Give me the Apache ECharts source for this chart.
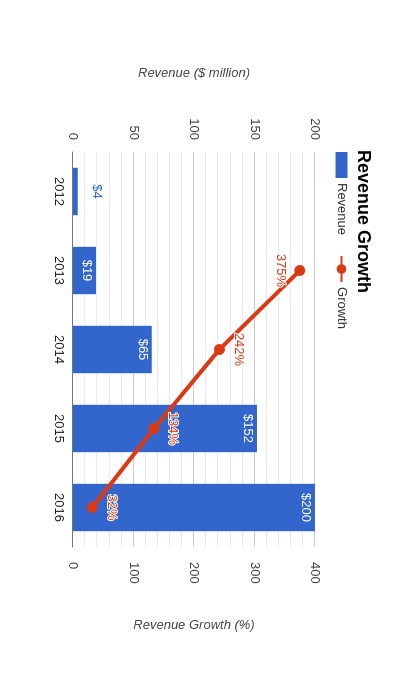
<!DOCTYPE html>
<html>
<head>
<meta charset="utf-8">
<script src="https://cdn.jsdelivr.net/npm/echarts@6/dist/echarts.min.js"></script>
<style>
  html, body { margin: 0; padding: 0; background: #fff; overflow: hidden; }
  /* the chart is drawn landscape and turned 90deg clockwise onto the page */
  #chart {
    position: absolute; left: 0; top: 0;
    width: 700px; height: 414px;
    transform-origin: 0 0;
    transform: translate(414px, 0) rotate(90deg);
  }
</style>
</head>
<body>
<div id="chart"></div>
<script>
var years = ['2012', '2013', '2014', '2015', '2016'];
var revenue = [4, 19, 65, 152, 200];          // $ million
var growth = [null, 375, 242, 134, 32];       // %
var revenueTicks = [0, 200, 50];              // min, max, step
var growthTicks = [0, 400, 100];

var chart = echarts.init(document.getElementById('chart'));

var blue = '#3366cc';
var red = '#dc3912';

var option = {
  backgroundColor: '#fff',
  textStyle: { fontFamily: 'Liberation Sans, Arial, sans-serif' },
  title: {
    text: 'Revenue Growth',
    left: 150,
    top: 42,
    padding: 0,
    textStyle: { fontSize: 18, fontWeight: 'bold', color: '#000' }
  },
  legend: {
    left: 152,
    top: 66,
    padding: 0,
    itemWidth: 26,
    itemHeight: 12,
    itemGap: 20,
    data: [{ name: 'Revenue', icon: 'rect' }, { name: 'Growth' }],
    textStyle: { fontSize: 13, color: '#333' }
  },
  grid: { left: 152, right: 153, top: 99, bottom: 73, containLabel: false },
  xAxis: {
    type: 'category',
    data: years,
    axisTick: { show: false },
    axisLine: { lineStyle: { color: '#777' } },
    axisLabel: { color: '#222', fontSize: 13, margin: 8 }
  },
  yAxis: [
    {
      type: 'value',
      min: revenueTicks[0], max: revenueTicks[1], interval: revenueTicks[2],
      name: 'Revenue ($ million)',
      nameLocation: 'middle',
      nameRotate: 90,
      nameGap: 72,
      nameTextStyle: { fontStyle: 'italic', color: '#444', fontSize: 13 },
      axisLine: { show: false },
      axisTick: { show: false },
      axisLabel: { color: '#444', fontSize: 13, margin: 12 },
      splitLine: { lineStyle: { color: '#ccc' } },
      minorTick: { show: false, splitNumber: 5 },
      minorSplitLine: { show: true, lineStyle: { color: '#ebebeb' } }
    },
    {
      type: 'value',
      position: 'right',
      min: growthTicks[0], max: growthTicks[1], interval: growthTicks[2],
      name: 'Revenue Growth (%)',
      nameLocation: 'middle',
      nameRotate: 90,
      nameGap: 72,
      nameTextStyle: { fontStyle: 'italic', color: '#444', fontSize: 13 },
      axisLine: { show: false },
      axisTick: { show: false },
      axisLabel: { color: '#444', fontSize: 13, margin: 15 },
      splitLine: { show: false }
    }
  ],
  series: [
    {
      name: 'Revenue',
      type: 'bar',
      yAxisIndex: 0,
      barCategoryGap: '40%',
      itemStyle: { color: blue },
      data: revenue.map(function (v) {
        var outside = v < 10;   // tiny bar: label sits above it
        return {
          value: v,
          label: {
            show: true,
            position: outside ? 'top' : 'insideTop',
            distance: outside ? 12 : 3,
            color: outside ? blue : '#fff',
            fontSize: 13,
            formatter: '${c}'
          }
        };
      })
    },
    {
      name: 'Growth',
      type: 'line',
      yAxisIndex: 1,
      symbol: 'circle',
      symbolSize: 11,
      itemStyle: { color: red },
      lineStyle: { color: red, width: 4 },
      data: growth.map(function (v, i) {
        return {
          value: v,
          label: {
            show: true,
            position: i === 1 ? 'bottom' : 'top',
            distance: 7,
            color: red,
            fontSize: 13,
            textBorderColor: '#fff',
            textBorderWidth: 2,
            formatter: '{c}%'
          }
        };
      })
    }
  ]
};

chart.setOption(option);
</script>
</body>
</html>
